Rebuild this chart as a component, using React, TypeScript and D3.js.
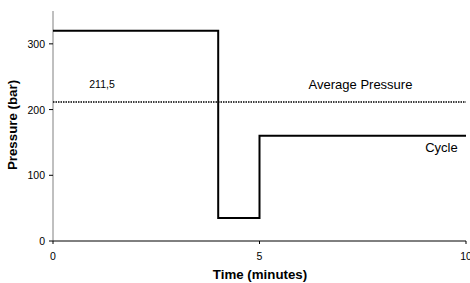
import React from "react";
import * as d3 from "d3";

const cycleTimes = [0, 4, 4, 5, 5, 10];
const cyclePressures = [320, 320, 35, 35, 160, 160];
const averagePressure = 211.5;
const xTicks = [0, 5, 10];
const yTicks = [0, 100, 200, 300];

export default function App() {
  const W = 470, H = 283;
  const x = d3.scaleLinear().domain([0, 10]).range([53, 466]);
  const y = d3.scaleLinear().domain([0, 350]).range([241, 11]);
  const pts = cycleTimes.map((t, i) => [t, cyclePressures[i]] as [number, number]);
  const line = d3.line<[number, number]>().x(d => x(d[0])).y(d => y(d[1]));
  const font = "'Liberation Sans', Arial, sans-serif";
  return (
    <svg width={W} height={H} style={{ position: "absolute", left: 0, top: 0, background: "#fff" }} fontFamily={font}>
      {/* y axis */}
      <line x1={x(0)} x2={x(0)} y1={y(350)} y2={y(0)} stroke="#808080" strokeWidth={1} />
      {yTicks.map(t => (
        <g key={t}>
          <line x1={x(0) - 4} x2={x(0)} y1={y(t)} y2={y(t)} stroke="#000" />
          <text x={x(0) - 8} y={y(t) + 4} fontSize={10.5} textAnchor="end">{t}</text>
        </g>
      ))}
      {/* x axis */}
      <line x1={x(0)} x2={x(10)} y1={y(0)} y2={y(0)} stroke="#000" strokeWidth={1} />
      {xTicks.map(t => (
        <g key={t}>
          <line x1={x(t)} x2={x(t)} y1={y(0)} y2={y(0) + 3} stroke="#000" />
          <text x={x(t)} y={260} fontSize={10.5} textAnchor="middle">{t}</text>
        </g>
      ))}
      {/* average */}
      <line x1={x(0)} x2={x(10)} y1={y(averagePressure)} y2={y(averagePressure)} stroke="#000" strokeWidth={1.5} strokeDasharray="1.5,1" />
      <path d={line(pts) || ""} fill="none" stroke="#000" strokeWidth={2} />
      <text x={102} y={88} fontSize={10.5} textAnchor="middle">{String(averagePressure).replace(".", ",")}</text>
      <text x={360.5} y={89} fontSize={13} textAnchor="middle">Average Pressure</text>
      <text x={441.5} y={152} fontSize={13} textAnchor="middle">Cycle</text>
      <text x={260} y={279} fontSize={13.3} fontWeight="bold" textAnchor="middle">Time (minutes)</text>
      <text transform={`translate(17,125) rotate(-90)`} fontSize={13.3} fontWeight="bold" textAnchor="middle">Pressure (bar)</text>
    </svg>
  );
}
